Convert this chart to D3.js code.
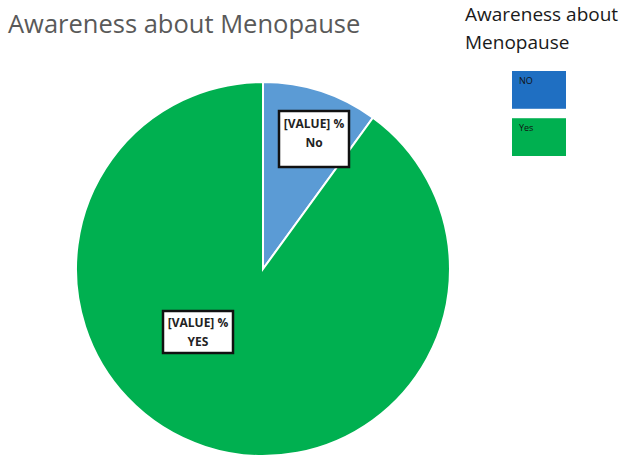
<!DOCTYPE html>
<html>
<head>
<meta charset="utf-8">
<script src="https://cdn.jsdelivr.net/npm/d3@7"></script>
<style>
  body { margin: 0; background: #fff; }
  svg { display: block; font-family: "Open Sans", "Noto Sans", sans-serif; }
</style>
</head>
<body>
<svg id="chart"></svg>
<script>
// data
const categories = ["NO", "Yes"];
const values = [10, 90];
const sliceLabels = ["No", "YES"];
const sliceColors = ["#5b9bd5", "#00b050"];
const legendColors = ["#1f6fc2", "#00b050"];

const width = 632, height = 457;
const cx = 263, cy = 269, radius = 187;

const svg = d3.select("#chart").attr("width", width).attr("height", height);

svg.append("text")
  .attr("x", 8).attr("y", 33)
  .attr("font-size", 25.5)
  .attr("fill", "#595959")
  .text("Awareness about Menopause");

const pie = d3.pie().sort(null).value(d => d.value);
const arcs = pie(categories.map((c, i) => ({ name: c, value: values[i], label: sliceLabels[i] })));
const arc = d3.arc().innerRadius(0).outerRadius(radius);

const g = svg.append("g").attr("transform", `translate(${cx},${cy})`);

g.selectAll("path")
  .data(arcs)
  .join("path")
  .attr("d", arc)
  .attr("fill", (d, i) => sliceColors[i])
  .attr("stroke", "#fff")
  .attr("stroke-width", 2);

// data label boxes, placed where Excel put them
const labelAt = [[314, 139], [198, 332]];
const lab = g.selectAll("g.lab")
  .data(arcs)
  .join("g")
  .attr("class", "lab")
  .attr("transform", (d, i) => `translate(${labelAt[i][0] - cx},${labelAt[i][1] - cy})`);

lab.append("rect")
  .attr("x", -35)
  .attr("y", (d, i) => i === 0 ? -28 : -21)
  .attr("width", 70)
  .attr("height", (d, i) => i === 0 ? 56 : 42)
  .attr("fill", "#fff")
  .attr("stroke", "#111")
  .attr("stroke-width", 2.5);

lab.append("text")
  .attr("text-anchor", "middle")
  .attr("y", (d, i) => i === 0 ? -11 : -5)
  .attr("font-size", 12)
  .attr("font-weight", "bold")
  .attr("fill", "#222")
  .text("[VALUE] %");

lab.append("text")
  .attr("text-anchor", "middle")
  .attr("y", (d, i) => i === 0 ? 8 : 14)
  .attr("font-size", 12)
  .attr("font-weight", "bold")
  .attr("fill", "#222")
  .text(d => d.data.label);

// legend
const leg = svg.append("g");
leg.append("text").attr("x", 465).attr("y", 21).attr("font-size", 19).attr("fill", "#1a1a1a").text("Awareness about");
leg.append("text").attr("x", 465).attr("y", 49).attr("font-size", 19).attr("fill", "#1a1a1a").text("Menopause");

const legY = d3.scaleBand().domain(categories).range([71, 156]).paddingInner(0.2);
const items = leg.selectAll("g.item")
  .data(categories)
  .join("g")
  .attr("class", "item")
  .attr("transform", d => `translate(512,${legY(d)})`);
items.append("rect")
  .attr("width", 54)
  .attr("height", legY.bandwidth())
  .attr("fill", (d, i) => legendColors[i]);
items.append("text")
  .attr("x", 7).attr("y", 13)
  .attr("font-size", 9)
  .attr("fill", "#111")
  .text(d => d);
</script>
</body>
</html>
